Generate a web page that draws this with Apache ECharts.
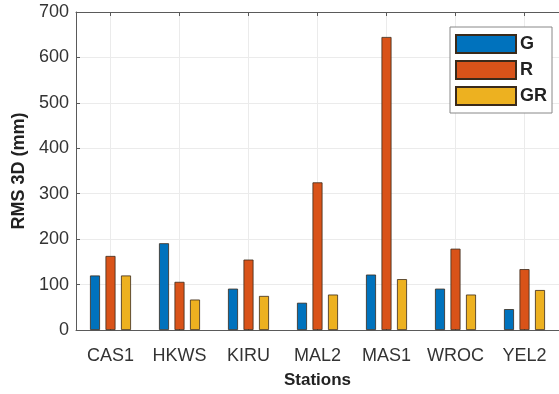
<!DOCTYPE html>
<html><head><meta charset="utf-8">
<script src="https://cdn.jsdelivr.net/npm/echarts@6/dist/echarts.min.js"></script>
<style>html,body{margin:0;padding:0;background:#fff}#c{width:559px;height:394px}</style>
</head><body><div id="c"></div>
<script>
const stations = ['CAS1','HKWS','KIRU','MAL2','MAS1','WROC','YEL2'];
const gValues  = [120, 191, 91, 60, 122, 91, 46];
const rValues  = [163, 106, 155, 325, 645, 179, 134];
const grValues = [120, 67, 75, 78, 112, 78, 88];
const yTicks = [0,100,200,300,400,500,600,700];

const FONT = 'Liberation Sans, Arial, sans-serif';
const TXT = '#333333';
const AX = '#5a5a5a';
const chart = echarts.init(document.getElementById('c'));
function bar(name, data, color){
  return {name, type:'bar', data, barWidth:10, barGap:'55%',
    itemStyle:{color, borderColor:'#3a2a1a', borderWidth:0.8}};
}
chart.setOption({
  animation:false,
  backgroundColor:'#fff',
  grid:{left:76, top:12, width:490, height:322, containLabel:false},
  legend:{
    orient:'vertical', left:450, top:27, itemWidth:60, itemHeight:18, itemGap:6,
    padding:[7,5,7,5], borderColor:'#888', borderWidth:1, backgroundColor:'#fff',
    icon:'rect',
    textStyle:{fontFamily:FONT, fontSize:18, fontWeight:'bold', color:'#222', padding:[0,0,0,-1]},
    data:['G','R','GR']
  },
  xAxis:[{
    type:'category', data:stations, position:'bottom',
    name:'Stations', nameLocation:'middle', nameGap:42,
    nameTextStyle:{fontFamily:FONT, fontSize:17, fontWeight:'bold', color:'#222'},
    axisLine:{lineStyle:{color:AX, width:1}},
    axisTick:{show:true, inside:true, alignWithLabel:true, interval:0, length:4, lineStyle:{color:AX}},
    axisLabel:{fontFamily:FONT, fontSize:18, color:TXT, margin:17, interval:0},
    splitLine:{show:true, alignWithLabel:true, interval:0, lineStyle:{color:'#ebebeb', width:1}}
  },{
    type:'category', data:stations, position:'top',
    axisLine:{lineStyle:{color:AX, width:1}},
    axisTick:{show:true, inside:true, alignWithLabel:true, interval:0, length:4, lineStyle:{color:AX}},
    axisLabel:{show:false}, splitLine:{show:false}
  }],
  yAxis:{
    type:'value', min:yTicks[0], max:yTicks[yTicks.length-1], interval:100,
    name:'RMS 3D (mm)', nameLocation:'middle', nameGap:38, nameRotate:90,
    nameTextStyle:{fontFamily:FONT, fontSize:18, fontWeight:'bold', color:'#222'},
    axisLine:{show:true, lineStyle:{color:AX, width:1}},
    axisTick:{show:true, inside:true, length:4, lineStyle:{color:AX}},
    axisLabel:{fontFamily:FONT, fontSize:18, color:TXT, margin:7},
    splitLine:{show:true, lineStyle:{color:'#ebebeb', width:1}}
  },
  series:[
    bar('G', gValues, '#0072BD'),
    bar('R', rValues, '#D95319'),
    bar('GR', grValues, '#EDB120')
  ]
});
</script></body></html>
